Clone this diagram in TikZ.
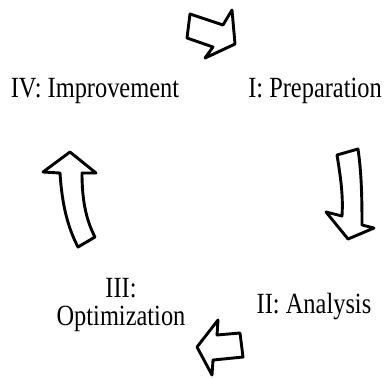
\documentclass[tikz,border=0pt]{standalone}
\usepackage{fontspec}
\setmainfont{Liberation Serif}
\usetikzlibrary{shadows}
\newcommand{\stretchy}[1]{\scalebox{1}[1.2]{#1}}

\begin{document}
\begin{tikzpicture}[x=1pt,y=-1pt,
        phase/.style={anchor=base,inner sep=0pt,font=\fontsize{24.4}{22.5}\selectfont},
        blockarrow/.style={draw=black,fill=white,line width=2.9pt,line join=round,
            drop shadow={opacity=0.25,shadow xshift=1pt,shadow yshift=-1.5pt}}]
        \useasboundingbox (0,0) rectangle (385,378);
        % the four phases
        \node[phase] (prep) at (315,97) {\stretchy{I: Preparation}};
        \node[phase] (anal) at (314,313) {\stretchy{II: Analysis}};
        \node[phase] (optim) at (121,325) {\stretchy{\begin{tabular}[b]{@{}c@{}}III:\\Optimization\end{tabular}}};
        \node[phase] (impr) at (95,97) {\stretchy{IV: Improvement}};
        % block arrows between the phases
        \draw[blockarrow] (190,14) -- (223,25) -- (232,10) -- (235,44) -- (205,58) -- (213,47) -- (187,38) -- cycle;
        \draw[blockarrow] (337,155) .. controls (342,185) and (343,200) .. (342,216) -- (326,212) -- (348,239)
            -- (374,228) -- (362,225) .. controls (362,190) and (361,170) .. (358,149) -- cycle;
        \draw[blockarrow] (218,320) -- (217,335) -- (240,333) -- (243,357) -- (213,360) -- (212,375) -- (197,347) -- cycle;
        \draw[blockarrow] (70,152) -- (43,172) -- (60,173) .. controls (62,205) and (68,228) .. (78,247)
            -- (95,237) .. controls (86,220) and (82,200) .. (82,173) -- (96,173) -- cycle;
\end{tikzpicture}
\end{document}
